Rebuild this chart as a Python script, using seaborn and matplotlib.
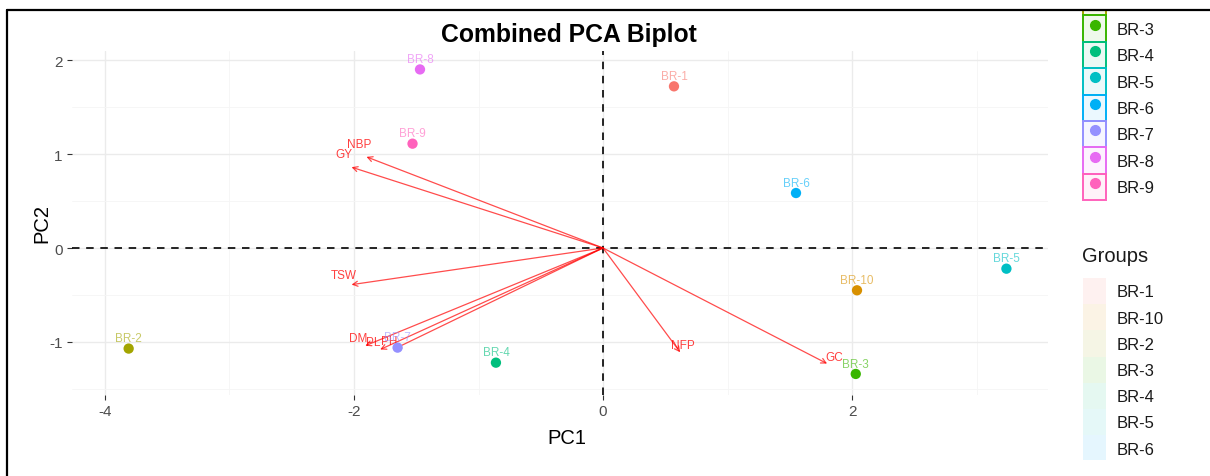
import numpy as np
import pandas as pd
import matplotlib
matplotlib.use("Agg")
import matplotlib.pyplot as plt
import seaborn as sns
from matplotlib.patches import Rectangle
from matplotlib.lines import Line2D
from matplotlib.legend_handler import HandlerTuple

# ---------------- data ----------------
groups = ["BR-1", "BR-10", "BR-2", "BR-3", "BR-4", "BR-5", "BR-6", "BR-7", "BR-8", "BR-9"]
pc1 = [0.57, 2.04, -3.81, 2.03, -0.86, 3.24, 1.55, -1.65, -1.47, -1.53]
pc2 = [1.72, -0.45, -1.07, -1.34, -1.22, -0.22, 0.585, -1.06, 1.90, 1.11]
group_colors = ["#F8766D", "#D89000", "#A3A500", "#39B600", "#00BF7D",
                "#00BFC4", "#00B0F6", "#9590FF", "#E76BF3", "#FF62BC"]

var_names = ["NBP", "GY", "TSW", "DM", "PL", "PH", "NFP", "GC"]
var_pc1 = [-1.90, -2.02, -2.02, -1.91, -1.79, -1.67, 0.62, 1.80]
var_pc2 = [0.97, 0.86, -0.39, -1.04, -1.08, -1.07, -1.11, -1.23]

x_ticks = [-4, -2, 0, 2]
x_minor = [-3, -1, 1, 3]
y_ticks = [-1, 0, 1, 2]
y_minor = [-1.5, -0.5, 0.5, 1.5]

title = "Combined PCA Biplot"
x_label = "PC1"
y_label = "PC2"
legend_title = "Groups"

df = pd.DataFrame({"PC1": pc1, "PC2": pc2, "group": groups})

# ---------------- style ----------------
sns.set_style("white")
plt.rcParams["font.family"] = ["Liberation Sans", "DejaVu Sans"]

W, H = 1210, 477
fig = plt.figure(figsize=(W / 100, H / 100), dpi=100)
pl, pr, pt, pb = 72, 1048, 52, 396
ax = fig.add_axes([pl / W, 1 - pb / H, (pr - pl) / W, (pb - pt) / H])

ax.set_xlim(-4.265, 3.574)
ax.set_ylim(-1.564, 2.096)
ax.set_xticks(x_ticks)
ax.set_xticks(x_minor, minor=True)
ax.set_yticks(y_ticks)
ax.set_yticks(y_minor, minor=True)
ax.set_xticklabels([str(v) for v in x_ticks])
ax.set_yticklabels([str(v) for v in y_ticks])
ax.grid(which="major", color="#EBEBEB", lw=1.0)
ax.grid(which="minor", color="#F5F5F5", lw=0.6)
ax.set_axisbelow(True)
for s in ax.spines.values():
    s.set_visible(False)
ax.tick_params(which="major", direction="out", length=3.6, width=0.8, color="#333333",
               labelsize=11, labelcolor="#4D4D4D", pad=3)
ax.tick_params(which="minor", length=0)
ax.tick_params(axis="x", bottom=True)
ax.tick_params(axis="y", left=True)

# reference lines
ax.axhline(0, color="black", lw=1.2, ls=(0, (4.5, 4.0)), zorder=1)
ax.axvline(0, color="black", lw=1.2, ls=(0, (4.5, 4.0)), zorder=1)

# variable arrows
for name, vx, vy in zip(var_names, var_pc1, var_pc2):
    ax.annotate("", xy=(vx, vy), xytext=(0, 0),
                arrowprops=dict(arrowstyle="->,head_length=0.35,head_width=0.18",
                                color="red", alpha=0.7, lw=0.9,
                                shrinkA=0, shrinkB=0), zorder=2)
    ax.annotate(name, xy=(vx * 1.03, vy * 1.03), xytext=(0, 7.5),
                textcoords="offset points", ha="center", va="center",
                color="red", alpha=0.75, fontsize=8.5, zorder=2)

# points
sns.scatterplot(data=df, x="PC1", y="PC2", hue="group", hue_order=groups,
                palette=group_colors, s=55, edgecolor="none", legend=False,
                ax=ax, zorder=3)
for g, x, y, c in zip(groups, pc1, pc2, group_colors):
    ax.annotate(g, xy=(x, y), xytext=(0, 7.5), textcoords="offset points",
                ha="center", va="center", color=c, alpha=0.6, fontsize=8.5, zorder=3)

# titles
fig.text(569 / W, 1 - 35 / H, title, ha="center", va="center",
         fontsize=17.8, fontweight="bold", color="black")
ax.set_xlabel(x_label, fontsize=14.5, color="black")
ax.xaxis.label.set_va("center")
ax.xaxis.set_label_coords((567 - pl) / (pr - pl), -(438 - pb) / (pb - pt))
ax.set_ylabel(y_label, fontsize=14.5, color="black")
ax.yaxis.label.set_va("center")
ax.yaxis.set_label_coords(-(pl - 42) / (pr - pl), 0.5)

# ---------------- legends ----------------
fs_leg = 12
fs_px = fs_leg * 100 / 72


def handle_height(px):
    # matplotlib row height = fontsize * (0.65 * handleheight + 0.245)
    return (px / fs_px - 0.245) / 0.65


h1 = []
for c in group_colors:
    rect = Rectangle((0, 0), 1, 1, facecolor=(*matplotlib.colors.to_rgb(c), 0.08),
                     edgecolor=c, lw=1.4)
    dot = Line2D([], [], marker="o", color=c, ls="", markersize=7)
    h1.append((rect, dot))
leg1 = fig.legend(h1, groups, loc="lower left",
                  bbox_to_anchor=(1083 / W, 1 - (188 + 13.2) / H),
                  frameon=False, fontsize=fs_leg, borderpad=0, borderaxespad=0,
                  handlelength=23 / fs_px, handleheight=handle_height(26.4),
                  labelspacing=0, handletextpad=0.66,
                  handler_map={tuple: HandlerTuple(ndivide=1)})
for t in leg1.get_texts():
    t.set_color("#1A1A1A")

h2 = [Rectangle((0, 0), 1, 1, facecolor=c, alpha=0.1, edgecolor="none")
      for c in group_colors]
leg2 = fig.legend(h2, groups, loc="upper left",
                  bbox_to_anchor=(1083 / W, 1 - 279 / H),
                  frameon=False, fontsize=fs_leg, borderpad=0, borderaxespad=0,
                  handlelength=23 / fs_px, handleheight=handle_height(26.2),
                  labelspacing=0, handletextpad=0.66)
for t in leg2.get_texts():
    t.set_color("#1A1A1A")
fig.text(1082 / W, 1 - 257 / H, legend_title, ha="left", va="center",
         fontsize=14.5, color="#1A1A1A")

# screenshot frame
fig.add_artist(Rectangle((0, 1 - 10 / H), 1, 10 / H, transform=fig.transFigure,
                         facecolor="white", edgecolor="none", zorder=20))
fig.add_artist(Rectangle((1060 / W, 0), 1, 16 / H, transform=fig.transFigure,
                         facecolor="white", edgecolor="none", zorder=20))
fig.add_artist(Line2D([7 / W, 1], [1 - 10.5 / H, 1 - 10.5 / H], transform=fig.transFigure,
                      color="black", lw=1.6, zorder=21))
fig.add_artist(Line2D([7 / W, 7 / W], [0, 1 - 10.5 / H], transform=fig.transFigure,
                      color="black", lw=1.6, zorder=21))

fig.savefig("out.png", dpi=100, facecolor="white")
